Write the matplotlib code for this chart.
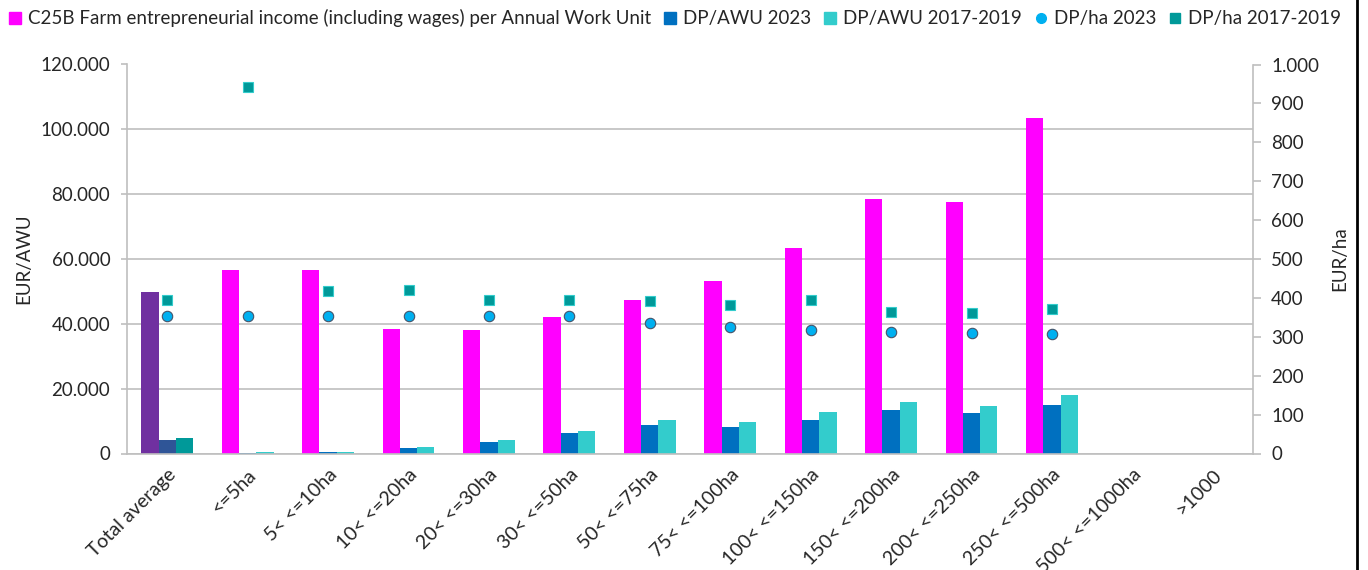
import matplotlib
matplotlib.use("Agg")
import matplotlib.pyplot as plt
import numpy as np
from matplotlib.lines import Line2D
from matplotlib.ticker import FuncFormatter, MultipleLocator

plt.rcParams["font.family"] = ["Lato", "DejaVu Sans"]

# Farm size classes
categories = [
    "Total average", "<=5ha", "5< <=10ha", "10< <=20ha", "20< <=30ha",
    "30< <=50ha", "50< <=75ha", "75< <=100ha", "100< <=150ha",
    "150< <=200ha", "200< <=250ha", "250< <=500ha", "500< <=1000ha", ">1000",
]

# EUR per annual work unit (left axis)
income_awu = [49900, 56600, 56600, 38400, 38000, 42200, 47300, 53200,
              63300, 78500, 77500, 103600, np.nan, np.nan]
dp_awu_2023 = [4200, 100, 400, 1800, 3500, 6200, 8700, 8100,
               10300, 13500, 12500, 15000, np.nan, np.nan]
dp_awu_1719 = [4900, 400, 400, 2100, 4100, 6900, 10300, 9700,
               12800, 16000, 14800, 18100, np.nan, np.nan]

# EUR per hectare (right axis)
dp_ha_2023 = [354, 354, 354, 354, 354, 354, 336, 325, 317, 312, 310, 306,
              np.nan, np.nan]
dp_ha_1719 = [395, 941, 418, 420, 395, 394, 391, 381, 394, 365, 362, 371,
              np.nan, np.nan]

MAGENTA = "#FF00FF"
BLUE = "#0070C0"
LIGHT_TEAL = "#33CCCC"
DARK_TEAL = "#009999"
SKY = "#00B0F0"
GRID = "#BFBFBF"
TEXT = "#262626"
FS = 13.5
FS_X = 14

fig = plt.figure(figsize=(13.68, 5.70), dpi=100)
ax = fig.add_axes([127 / 1368, 1 - 453.5 / 570, (1253 - 127) / 1368, (453.5 - 64.5) / 570])
ax2 = ax.twinx()

x = np.arange(len(categories))
w = 0.215

# the total-average group uses its own colour set
c1 = ["#7030A0"] + [MAGENTA] * (len(x) - 1)
c2 = ["#2F5597"] + [BLUE] * (len(x) - 1)
c3 = [DARK_TEAL] + [LIGHT_TEAL] * (len(x) - 1)

ax.bar(x - w, income_awu, w, color=c1, zorder=2)
ax.bar(x, dp_awu_2023, w, color=c2, zorder=2)
ax.bar(x + w, dp_awu_1719, w, color=c3, zorder=2)

ax2.plot(x, dp_ha_2023, linestyle="none", marker="o", markersize=7.5,
         markerfacecolor=SKY, markeredgecolor="#44546A", markeredgewidth=0.8)
ax2.plot(x, dp_ha_1719, linestyle="none", marker="s", markersize=6.8,
         markerfacecolor=DARK_TEAL, markeredgecolor=LIGHT_TEAL, markeredgewidth=0.8)

thousands = FuncFormatter(lambda v, p: f"{v:,.0f}".replace(",", "."))

ax.set_xlim(-0.5, len(categories) - 0.5)
ax.set_ylim(0, 120000)
ax.yaxis.set_major_locator(MultipleLocator(20000))
ax.yaxis.set_major_formatter(thousands)
ax.grid(axis="y", color=GRID, linewidth=1.2, zorder=0)
ax.set_axisbelow(True)

ax2.set_ylim(0, 1000)
ax2.yaxis.set_major_locator(MultipleLocator(100))
ax2.yaxis.set_major_formatter(thousands)

for a in (ax, ax2):
    a.spines["top"].set_visible(False)
    for s in ("left", "right", "bottom"):
        a.spines[s].set_color(GRID)
        a.spines[s].set_linewidth(1.2)
ax.spines["right"].set_visible(False)
ax2.spines["left"].set_visible(False)
ax2.spines["bottom"].set_visible(False)

ax.tick_params(axis="y", colors=GRID, labelcolor=TEXT, labelsize=FS, length=4, width=1.2, pad=8)
ax2.tick_params(axis="y", colors=GRID, labelcolor=TEXT, labelsize=FS, length=6, width=1.2, pad=7)
ax.tick_params(axis="x", length=0, labelsize=FS_X, labelcolor=TEXT, pad=9)

ax.set_xticks(x)
ax.set_xticklabels(categories, rotation=45, ha="right", va="top", rotation_mode="anchor")

ax.set_ylabel("EUR/AWU", fontsize=FS, color=TEXT, labelpad=6)
ax2.set_ylabel("EUR/ha", fontsize=FS, color=TEXT, labelpad=9)

handles = [
    Line2D([], [], linestyle="none", marker="s", markersize=8, markerfacecolor=MAGENTA, markeredgecolor=MAGENTA),
    Line2D([], [], linestyle="none", marker="s", markersize=8, markerfacecolor=BLUE, markeredgecolor=BLUE),
    Line2D([], [], linestyle="none", marker="s", markersize=8, markerfacecolor=LIGHT_TEAL, markeredgecolor=LIGHT_TEAL),
    Line2D([], [], linestyle="none", marker="o", markersize=7, markerfacecolor=SKY, markeredgecolor=SKY),
    Line2D([], [], linestyle="none", marker="s", markersize=7, markerfacecolor=DARK_TEAL, markeredgecolor=DARK_TEAL),
]
labels = [
    "C25B Farm entrepreneurial income (including wages) per Annual Work Unit",
    "DP/AWU 2023", "DP/AWU 2017-2019", "DP/ha 2023", "DP/ha 2017-2019",
]
fig.legend(handles, labels, loc="upper left", bbox_to_anchor=(0.0, 1.0), ncol=5,
           frameon=False, fontsize=FS, handlelength=0.6, handletextpad=0.4,
           columnspacing=0.7, borderaxespad=0.1, labelcolor=TEXT)

# right-hand frame line
fig.add_artist(Line2D([1357 / 1368, 1357 / 1368], [0, 1], transform=fig.transFigure,
                      color="black", linewidth=2))

fig.savefig("out.png", dpi=100)
